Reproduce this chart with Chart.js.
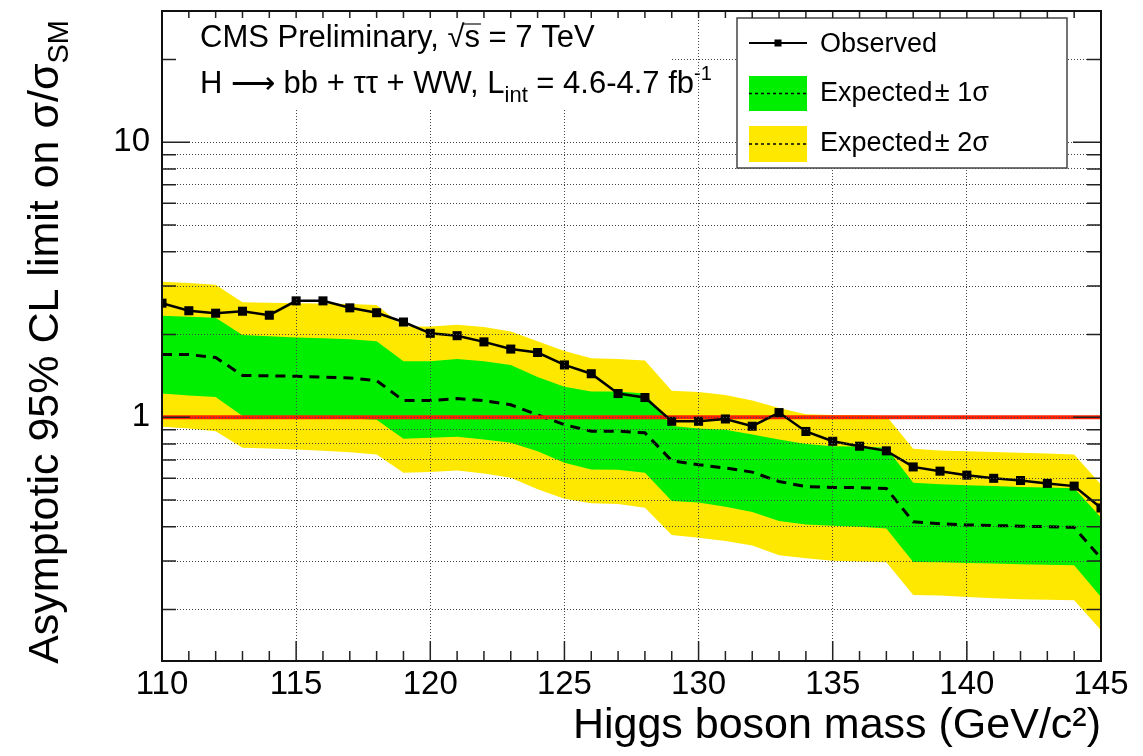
<!DOCTYPE html>
<html>
<head>
<meta charset="utf-8">
<title>Asymptotic 95% CL limit</title>
<script src="https://cdn.jsdelivr.net/npm/chart.js@4.4.1/dist/chart.umd.min.js"></script>
<style>
  html, body { margin: 0; padding: 0; background: #fff; }
  canvas { display: block; }
</style>
</head>
<body>
<canvas id="limitChart" width="1143" height="756"></canvas>
<script>
// Higgs mass points (GeV/c^2)
const masses = [110, 111, 112, 113, 114, 115, 116, 117, 118, 119,
                120, 121, 122, 123, 124, 125, 126, 127, 128, 129,
                130, 131, 132, 133, 134, 135, 136, 137, 138, 139,
                140, 141, 142, 143, 144, 145];

// Limits on sigma/sigma_SM
const observed = [2.60, 2.44, 2.39, 2.43, 2.35, 2.65, 2.65, 2.50, 2.40, 2.22,
                  2.02, 1.98, 1.88, 1.77, 1.72, 1.55, 1.44, 1.22, 1.18, 0.967,
                  0.967, 0.986, 0.928, 1.04, 0.888, 0.818, 0.785, 0.755, 0.660, 0.637,
                  0.616, 0.600, 0.589, 0.575, 0.562, 0.468];
const expected = [1.69, 1.69, 1.65, 1.42, 1.415, 1.41, 1.40, 1.39, 1.36, 1.15,
                  1.15, 1.17, 1.15, 1.11, 1.02, 0.94, 0.89, 0.89, 0.878, 0.695,
                  0.672, 0.654, 0.632, 0.584, 0.56, 0.556, 0.555, 0.551, 0.417, 0.41,
                  0.406, 0.404, 0.402, 0.40, 0.398, 0.307];
const plus1Sigma = [2.34, 2.32, 2.30, 1.99, 1.97, 1.95, 1.94, 1.92, 1.89, 1.60,
                    1.60, 1.63, 1.60, 1.55, 1.40, 1.29, 1.24, 1.24, 1.22, 0.93,
                    0.91, 0.90, 0.865, 0.83, 0.80, 0.785, 0.783, 0.775, 0.578, 0.571,
                    0.566, 0.562, 0.558, 0.555, 0.552, 0.432];
const minus1Sigma = [1.22, 1.20, 1.185, 1.01, 1.005, 1.0, 0.995, 0.99, 0.98, 0.835,
                     0.842, 0.85, 0.83, 0.808, 0.753, 0.684, 0.646, 0.644, 0.629, 0.496,
                     0.49, 0.473, 0.453, 0.42, 0.408, 0.403, 0.40, 0.394, 0.298, 0.297,
                     0.295, 0.294, 0.292, 0.291, 0.29, 0.222];
const plus2Sigma = [3.11, 3.08, 3.03, 2.62, 2.61, 2.60, 2.59, 2.58, 2.56, 2.14,
                    2.14, 2.17, 2.13, 2.05, 1.89, 1.74, 1.64, 1.63, 1.61, 1.25,
                    1.235, 1.205, 1.15, 1.08, 1.025, 1.02, 1.02, 1.01, 0.768, 0.757,
                    0.753, 0.748, 0.743, 0.738, 0.733, 0.57];
const minus2Sigma = [0.923, 0.91, 0.89, 0.775, 0.77, 0.764, 0.755, 0.747, 0.733, 0.629,
                     0.632, 0.641, 0.625, 0.603, 0.547, 0.506, 0.487, 0.484, 0.469, 0.373,
                     0.365, 0.355, 0.342, 0.315, 0.307, 0.301, 0.299, 0.297, 0.226, 0.225,
                     0.222, 0.22, 0.218, 0.217, 0.216, 0.168];

// SM reference line at sigma/sigma_SM = 1
const smMasses = [110, 145];
const smValues = [1, 1];

// Axis ranges and tick values
const massRange = [110, 145];
const limitRange = [0.13, 30];
const limitGrid = [0.2, 0.3, 0.4, 0.5, 0.6, 0.7, 0.8, 0.9,
                   1, 2, 3, 4, 5, 6, 7, 8, 9, 10, 20];
const limitLabels = [1, 10];

const FONT = '"Liberation Sans", Arial, Helvetica, sans-serif';
const GREEN = '#00ee00';
const YELLOW = '#ffe800';

function points(xs, ys) {
    return xs.map((m, i) => ({ x: m, y: ys[i] }));
}

// Draw a run of text pieces (for sub/superscripts), returns end x
function drawPieces(ctx, x, y, pieces) {
    pieces.forEach(p => {
        ctx.font = `${p.size}px ${FONT}`;
        ctx.fillText(p.t, x, y + (p.dy || 0));
        x += ctx.measureText(p.t).width;
    });
    return x;
}

function piecesWidth(ctx, pieces) {
    let w = 0;
    pieces.forEach(p => {
        ctx.font = `${p.size}px ${FONT}`;
        w += ctx.measureText(p.t).width;
    });
    return w;
}

// Frame, inward ticks, header text, legend and y title
const decorations = {
    id: 'decorations',
    afterDraw(chart) {
        const { ctx, chartArea: a, scales: { x, y } } = chart;
        ctx.save();

        // white boxes behind header text and legend
        ctx.fillStyle = '#fff';
        ctx.fillRect(a.left + 1, a.top + 1, 508, 97);
        ctx.fillRect(737, 18, 330, 150);
        ctx.strokeStyle = '#444';
        ctx.lineWidth = 1.5;
        ctx.strokeRect(737, 18, 330, 150);

        // legend entries
        ctx.strokeStyle = '#000';
        ctx.lineWidth = 2;
        ctx.beginPath();
        ctx.moveTo(749, 43);
        ctx.lineTo(807, 43);
        ctx.stroke();
        ctx.fillStyle = '#000';
        ctx.fillRect(774.5, 39.5, 7, 7);

        ctx.fillStyle = GREEN;
        ctx.fillRect(749, 76, 58, 35);
        ctx.fillStyle = YELLOW;
        ctx.fillRect(749, 126, 58, 36);
        ctx.setLineDash([3, 3]);
        ctx.lineWidth = 1.5;
        [93.5, 144].forEach(ly => {
            ctx.beginPath();
            ctx.moveTo(749, ly);
            ctx.lineTo(807, ly);
            ctx.stroke();
        });
        ctx.setLineDash([]);

        ctx.fillStyle = '#000';
        ctx.textBaseline = 'middle';
        ctx.textAlign = 'left';
        ctx.font = `27px ${FONT}`;
        ctx.fillText('Observed', 820, 45);
        ctx.fillText('Expected\u200A\u00B1 1\u03C3', 820, 94);
        ctx.fillText('Expected\u200A\u00B1 2\u03C3', 820, 144);

        // inward ticks on all four sides
        ctx.strokeStyle = '#222';
        ctx.lineWidth = 1.5;
        ctx.beginPath();
        for (let m = massRange[0] + 1; m < massRange[1]; m++) {
            const px = x.getPixelForValue(m);
            const len = m % 5 === 0 ? 20 : 10;
            ctx.moveTo(px, a.bottom);
            ctx.lineTo(px, a.bottom - len);
            ctx.moveTo(px, a.top);
            ctx.lineTo(px, a.top + 7);
        }
        limitGrid.forEach(v => {
            const py = y.getPixelForValue(v);
            const len = limitLabels.includes(v) ? 28 : 14;
            ctx.moveTo(a.left, py);
            ctx.lineTo(a.left + len, py);
            ctx.moveTo(a.right, py);
            ctx.lineTo(a.right - len, py);
        });
        ctx.stroke();

        // frame
        ctx.strokeStyle = '#111';
        ctx.lineWidth = 2;
        ctx.strokeRect(a.left, a.top, a.right - a.left, a.bottom - a.top);

        // header text
        ctx.fillStyle = '#000';
        ctx.textBaseline = 'alphabetic';
        const sqrtStart = drawPieces(ctx, 200, 47, [{ t: 'CMS Preliminary, \u221A', size: 31 }]);
        const sEnd = drawPieces(ctx, sqrtStart, 47, [{ t: 's', size: 31 }]);
        drawPieces(ctx, sEnd, 47, [{ t: ' = 7 TeV', size: 31 }]);
        ctx.lineWidth = 1.2;
        ctx.beginPath();
        ctx.moveTo(sqrtStart - 2, 24);
        ctx.lineTo(sEnd + 1, 24);
        ctx.stroke();

        drawPieces(ctx, 200, 93, [
            { t: 'H \u27F6 bb + \u03C4\u03C4 + WW, L', size: 31 },
            { t: 'int', size: 22, dy: 9 },
            { t: ' = 4.6-4.7 fb', size: 31 },
            { t: '-1', size: 20, dy: -13 }
        ]);

        // y axis title, rotated, ending at the top of the frame
        const yTitle = [
            { t: 'Asymptotic 95% CL limit on \u03C3/\u03C3', size: 43 },
            { t: 'SM', size: 29, dy: 10 }
        ];
        const w = piecesWidth(ctx, yTitle);
        ctx.translate(58, 20 + w);
        ctx.rotate(-Math.PI / 2);
        drawPieces(ctx, 0, 0, yTitle);

        ctx.restore();
    }
};

new Chart(document.getElementById('limitChart'), {
    type: 'line',
    data: {
        datasets: [
            {
                label: 'Observed',
                data: points(masses, observed),
                borderColor: '#000',
                borderWidth: 2.5,
                backgroundColor: '#000',
                pointStyle: 'rect',
                pointRadius: 6.4,
                pointBorderWidth: 0,
                order: 1
            },
            {
                label: 'SM',
                data: points(smMasses, smValues),
                borderColor: '#ff2000',
                borderWidth: 4,
                pointRadius: 0,
                order: 2
            },
            {
                label: 'Expected',
                data: points(masses, expected),
                borderColor: '#000',
                borderWidth: 3,
                borderDash: [10, 7],
                pointRadius: 0,
                order: 3
            },
            {
                label: 'Expected +1 sigma',
                data: points(masses, plus1Sigma),
                borderWidth: 0,
                backgroundColor: GREEN,
                pointRadius: 0,
                fill: '+1',
                order: 4
            },
            {
                label: 'Expected -1 sigma',
                data: points(masses, minus1Sigma),
                borderWidth: 0,
                pointRadius: 0,
                fill: false,
                order: 4
            },
            {
                label: 'Expected +2 sigma',
                data: points(masses, plus2Sigma),
                borderWidth: 0,
                backgroundColor: YELLOW,
                pointRadius: 0,
                fill: '+1',
                order: 5
            },
            {
                label: 'Expected -2 sigma',
                data: points(masses, minus2Sigma),
                borderWidth: 0,
                pointRadius: 0,
                fill: false,
                order: 5
            }
        ]
    },
    options: {
        responsive: false,
        animation: false,
        layout: { padding: { top: 11, right: 42, bottom: 0, left: 0 } },
        plugins: {
            legend: { display: false },
            tooltip: { enabled: false }
        },
        scales: {
            x: {
                type: 'linear',
                min: massRange[0],
                max: massRange[1],
                ticks: {
                    stepSize: 5,
                    color: '#000',
                    padding: 4,
                    font: { family: FONT, size: 33 },
                    maxRotation: 0
                },
                grid: { color: '#444', lineWidth: 1, drawTicks: false, z: 1 },
                border: { display: false, dash: [1, 2] },
                title: {
                    display: true,
                    text: 'Higgs boson mass (GeV/c\u00B2)',
                    align: 'end',
                    color: '#000',
                    font: { family: FONT, size: 43 },
                    padding: { top: 0, bottom: 4 }
                },
                afterFit(scale) {
                    scale.height = 95;
                    scale.paddingLeft = 0;
                    scale.paddingRight = 0;
                }
            },
            y: {
                type: 'logarithmic',
                min: limitRange[0],
                max: limitRange[1],
                afterBuildTicks(scale) {
                    scale.ticks = limitGrid.map(v => ({ value: v }));
                },
                ticks: {
                    autoSkip: false,
                    color: '#000',
                    padding: 12,
                    font: { family: FONT, size: 33 },
                    callback: v => (limitLabels.includes(v) ? String(v) : '')
                },
                grid: { color: '#444', lineWidth: 1, drawTicks: false, z: 1 },
                border: { display: false, dash: [1, 2] },
                afterFit(scale) {
                    scale.width = 162;
                    scale.paddingTop = 0;
                    scale.paddingBottom = 0;
                }
            }
        }
    },
    plugins: [decorations]
});
</script>
</body>
</html>
